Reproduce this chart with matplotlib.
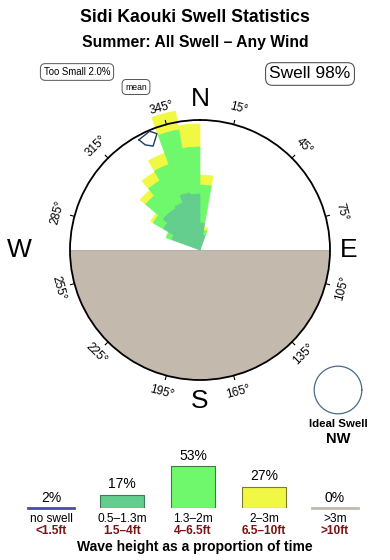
import numpy as np
import matplotlib
matplotlib.use("Agg")
import matplotlib.pyplot as plt

plt.rcParams['font.family'] = ['Liberation Sans', 'DejaVu Sans']

# rose data: direction bins (compass start angle, 10 deg wide) and band lengths
dir_start = [290, 300, 310, 320, 330, 340, 350, 0, 10]
band_small = [30, 42, 48, 48, 50, 58, 56, 27, 15]     # 0.5-1.3m
band_mid = [6, 12, 23, 32, 41, 64, 47, 38, 5]         # 1.3-2m
band_big = [0, 3, 7, 10, 12, 19, 23, 10, 3]           # 2-3m

# bottom legend
cat_top = ["no swell", "0.5\u20131.3m", "1.3\u20132m", "2\u20133m", ">3m"]
cat_bot = ["<1.5ft", "1.5\u20134ft", "4\u20136.5ft", "6.5\u201310ft", ">10ft"]
cat_pct = [2, 17, 53, 27, 0]

deg_labels = [15, 45, 75, 105, 135, 165, 195, 225, 255, 285, 315, 345]

C_SMALL = "#62cd8c"
C_MID = "#6ff86b"
C_BIG = "#f0f843"
C_LAND = "#c4b9ad"

W, H = 390, 560
fig = plt.figure(figsize=(W / 100, H / 100), dpi=100)


def fx(x):
    return x / W


def fy(y):
    return 1 - y / H


# ---- rose ----
cx, cy, R = 200, 250, 130
ax = fig.add_axes([fx(cx - R), fy(cy + R), 2 * R / W, 2 * R / H], projection='polar')
ax.set_theta_zero_location('N')
ax.set_theta_direction(-1)
ax.set_ylim(0, R)
ax.grid(False)
ax.set_xticks([])
ax.set_yticks([])
ax.spines['polar'].set_linewidth(1.3)
ax.spines['polar'].set_zorder(6)

th = np.radians(np.linspace(90, 270, 200))
ax.fill_between(th, 0, R, color=C_LAND, zorder=1, lw=0)
ax.plot(np.radians([90, 270]), [R, R], color="#b0b0b0", lw=0.6, zorder=1.5)

theta = np.radians(np.array(dir_start) + 5)
width = np.radians(10)
small = np.array(band_small)
mid = np.array(band_mid)
big = np.array(band_big)
ax.bar(theta, big, width=width, bottom=small + mid, color=C_BIG, ec=C_BIG, lw=0.5,
       zorder=3, clip_on=False)
ax.bar(theta, mid, width=width, bottom=small, color=C_MID, ec=C_MID, lw=0.5,
       zorder=3.1, clip_on=False)
ax.bar(theta, small, width=width, bottom=0, color=C_SMALL, ec=C_SMALL, lw=0.5,
       zorder=3.2, clip_on=False)

# mean marker
mpts = [(331, 126), (332.5, 118.5), (335.7, 114), (339.7, 124), (337, 129), (331, 126)]
ax.plot(np.radians([p[0] for p in mpts]), [p[1] for p in mpts], color="#1d3d5e",
        lw=1.0, zorder=7, clip_on=False)

for d in deg_labels:
    t = np.radians(d)
    ax.plot([t, t], [R, R + 4], color="k", lw=0.8, clip_on=False, zorder=6)
    rot = ((-d + 90) % 180) - 90
    ax.text(t, R + 17, f"{d}\u00b0", fontsize=8.5, rotation=rot,
            ha='center', va='center', rotation_mode='anchor', clip_on=False)

for lab, d, r in [("N", 0, 151), ("E", 90, 149), ("S", 180, 151), ("W", 270, 181)]:
    ax.text(np.radians(d), r, lab, fontsize=19, ha='center', va='center', clip_on=False)

# ---- titles and boxes ----
fig.text(0.5, fy(18), "Sidi Kaouki Swell Statistics", fontsize=12.7, weight='bold',
         ha='center', va='center')
fig.text(0.5, fy(42), "Summer: All Swell \u2013 Any Wind", fontsize=11.3, weight='bold',
         ha='center', va='center')
fig.text(fx(77), fy(72), "Too Small 2.0%", fontsize=6.9, ha='center', va='center',
         bbox=dict(boxstyle="round,pad=0.35,rounding_size=0.5", fc="white", ec="#555555", lw=0.7))
fig.text(fx(136), fy(87), "mean", fontsize=6.2, ha='center', va='center',
         bbox=dict(boxstyle="round,pad=0.35,rounding_size=0.5", fc="white", ec="#555555", lw=0.7))
fig.text(fx(310), fy(74), "Swell 98%", fontsize=12.5, ha='center', va='center',
         bbox=dict(boxstyle="round,pad=0.22,rounding_size=0.4", fc="white", ec="#555555", lw=0.8))

# ideal swell circle
ic = fig.add_axes([fx(313), fy(415), 50 / W, 50 / H])
ic.set_xlim(-1.05, 1.05)
ic.set_ylim(-1.05, 1.05)
tt = np.linspace(0, 2 * np.pi, 200)
ic.plot(np.cos(tt), np.sin(tt), color="#4a6a8a", lw=0.9)
ic.axis('off')
fig.text(fx(338), fy(424), "Ideal Swell", fontsize=8.2, weight='bold', ha='center', va='center')
fig.text(fx(338), fy(439), "NW", fontsize=10.5, weight='bold', ha='center', va='center')

# ---- bottom legend bars ----
base_y = 508
bx = fig.add_axes([fx(15.5), fy(base_y), 355 / W, 47.5 / H])
bx.set_xlim(-0.5, 4.5)
bx.set_ylim(0, 60)
bx.axis('off')
bar_cols = [None, C_SMALL, C_MID, C_BIG, None]
edge_cols = [None, "#3d7a55", "#3f7a3f", "#7a7a2a", None]
for i, p in enumerate(cat_pct):
    if bar_cols[i] is None:
        lc = "#4a4ab8" if i == 0 else C_LAND
        bx.plot([i - 0.32, i + 0.32], [0.6, 0.6], color=lc, lw=2, clip_on=False)
        top = 0
    else:
        bx.bar(i, p, width=0.63, color=bar_cols[i], edgecolor=edge_cols[i], lw=0.8)
        top = p
    bx.annotate(f"{p}%", (i, top), xytext=(0, 7.5), textcoords='offset points',
                ha='center', va='center', fontsize=10)

for i in range(len(cat_top)):
    xc = 51 + 71 * i
    fig.text(fx(xc), fy(519), cat_top[i], fontsize=8.6, ha='center', va='center')
    fig.text(fx(xc), fy(531), cat_bot[i], fontsize=8.6, weight='bold', color="#7a1414",
             ha='center', va='center')

fig.text(0.5, fy(547), "Wave height as a proportion of time", fontsize=10, weight='bold',
         ha='center', va='center')

fig.savefig("out.png", dpi=100)
